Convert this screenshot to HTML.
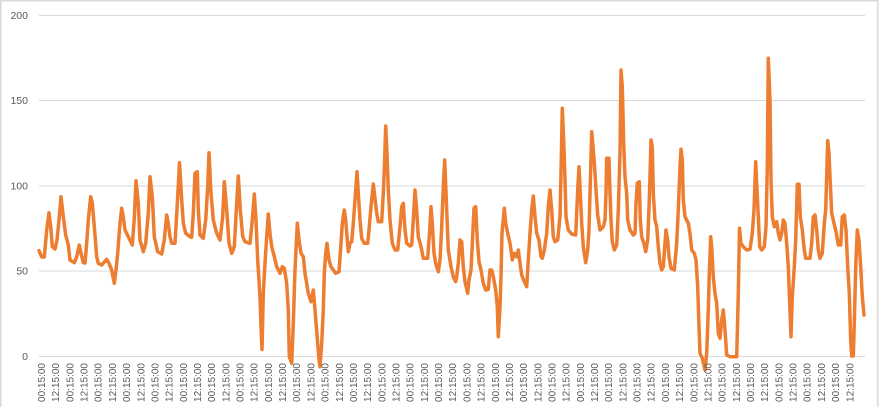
<!DOCTYPE html>
<html><head><meta charset="utf-8"><style>
html,body{margin:0;padding:0;background:#fff;width:882px;height:407px;overflow:hidden;}
svg{display:block;}
text{font-family:"Liberation Sans",sans-serif;fill:#595959;}
</style></head><body>
<svg width="882" height="407" viewBox="0 0 882 407" xmlns="http://www.w3.org/2000/svg" style="overflow:hidden">
<rect x="0" y="0" width="882" height="407" fill="#fff"/>
<path d="M0.75,407 L0.75,0.75 L877.75,0.75 L877.75,407" fill="none" stroke="#d9d9d9" stroke-width="1.5"/>
<g stroke="#d9d9d9" stroke-width="1">
<line x1="39" y1="15.5" x2="865" y2="15.5"/>
<line x1="39" y1="100.5" x2="865" y2="100.5"/>
<line x1="39" y1="186" x2="865" y2="186"/>
<line x1="39" y1="271" x2="865" y2="271"/>
<line x1="39" y1="356.5" x2="865" y2="356.5"/>
</g>
<g font-size="10.5" text-anchor="end">
<text x="28" y="19">200</text>
<text x="28" y="104">150</text>
<text x="28" y="189.5">100</text>
<text x="28" y="274.5">50</text>
<text x="28" y="360">0</text>
</g>
<polyline fill="none" stroke="#ED7D31" stroke-width="3.5" stroke-linejoin="round" stroke-linecap="round" points="
39,250.7 40,253 41.7,257 44.3,257 46.7,230 49,212.7 51,230 52.3,246.7 55,249 57,240 59,220 61,196.7 63.3,216.7 65.7,235 68.3,245 70,260 74.3,262.7 76.7,256.7 79.3,245 81,253 83.3,262.7 85,263 86.7,243 88.3,220 90.7,196.7 92.3,203 94.3,226.7 96.7,256.7 98.3,263.3 101.7,265 106.7,259.3 109,263.3 111.7,270 114.3,283.3 116,270 117.7,253 120,223.3 121.7,208.3 123.3,216.7 125,230 128.3,236.7 132.3,245 134.3,218.3 136,180.7 138.3,203.3 140,240 143.3,251.7 145.7,243.3 148.3,213.3 150,176.7 152.3,196.7 154.3,236.7 157.7,251.7 161.7,254 164.3,240 166.7,215 168.3,223.3 170,236.7 171.7,243.3 175,243.3 177.7,196.7 179.5,162.7
181.7,200 183.3,223.3 185.7,233.3 190,236.7 191.7,237.3 193.3,213.3 195,173.3 197.3,171.7 198.3,210 200,235 203.3,238.3 205.7,220 207.7,186.7 209,152.7 211,193.3 213.3,220 216.7,233.3 220,240 222.7,216.7 224.3,181.7 226.7,210 229,243.3 231.7,253.3 234.3,246.7 236.7,203.3 238.3,176 240.3,210 242.7,236.7 245,241.7 250,243.3 252.3,220 254.3,194 256,220 257.7,260 260,296.7 261,326.7 262,349.3 263.3,293.3 265,263.3 266.7,236.7 268.3,214 270,233.3 271.7,246.7 274.3,256.7 276.7,266.7 280,273.3 282.3,266.7 284.3,268.3 286.7,283.3 288.3,310 289.3,356.7 291.7,363.3 293.3,323.3 295,270 297.3,223.3 299,240 301,253.3 303.3,256.7 305,273.3 308.3,293.3 311,301.7 313.3,290 315,310 317.7,343.3 319,360
320,366.7 321.7,343.3 323.3,310 324.3,273.3 325.7,253.3 327,243.3 329,260 331,266.7 333.3,270 335.7,273.3 339,271.7 341,243.3 342.3,223.3 344.3,210 345.7,220 347,236.7 348.3,251.7 350,243.3 351.7,241.7 353.3,223.3 355,200 357,171.7 358.3,193.3 360,220 361.7,238.3 364.3,243.3 367.7,243.3 369.3,226.7 371,206.7 373.3,184 375,198.3 376.7,213.3 378.3,221.7 381.7,221.7 383.3,193.3 384.3,170 385.7,126 387,153.3 388.3,190 390,220 392.3,243.3 395,250 397.7,250 400,226.7 401.7,206.7 403.3,203.3 405,230 406.7,243.3 410,246 411.7,245 413.3,220 415,190 416.7,210 418.3,236.7 421,246.7 423.3,258.3 427.7,258.3 429.7,230 431,206.7 432.3,223.3 434,253.3 435.7,263.3 438.3,271.7 440,260 441.7,226.7 443.3,186.7 444.7,160 446.7,210 448.3,250 451,266.7 453.3,276.7 455.7,281.7
456.7,276.7 458.3,263.3 460,240 461.7,241.7 463.3,266.7 465,281.7 467.7,293.3 469,280 471,270 472.3,243.3 474,208.3 475.7,206.7 477.3,240 479,261.7 481,270 483.3,283.3 485.7,290 488.3,289.3 490,270 491.7,270 493.3,276.7 495.7,290 497.3,306.7 498.3,336.7 500,306.7 501,276.7 502,233.3 504.3,208.3 505.7,223.3 507.7,233.3 510,243.3 512.3,260 514.3,253.3 516.7,256.7 518.3,250 520,263.3 521.7,275 524.3,281.7 526.7,286.7 528.3,260 530,233.3 531.7,210 533.3,196 535,216.7 536.7,233.3 539,240 541,256.7 542.3,258.3 544.3,250 546.7,233.3 548.3,206.7 550,190 551.7,210 553.3,236.7 555,241.7 557.7,240 560,216.7 561,173.3 562.3,108.3 563.7,140 565,180 566,216.7 568.3,230 571.7,234 575.7,235 577.7,190 579,166.7 580.3,193.3 581.7,223.3 583.3,246.7 585.7,262.7 587.7,250 589,230 590.3,183.3 591.7,131.7 593,146.7 594.5,165 596,190 597.7,215
600,230 603.3,226.7 605,220 606,193.3 606.7,158.3 609,158.3 610,193.3 611,220 612.3,241.7 614.3,250 616.7,245 618.3,210 620,153.3 621,70 622.3,86.7 623.7,143.3 625,176.7 626.7,193.3 627.7,220 630,230 633.3,235 635,233.3 636,203.3 637.3,183.3 639.3,181.7 640.3,220 641.7,236.7 644.3,245 645.7,251.7 647.7,240 649.3,200 651,140 652.3,146.7 653.3,193.3 655,220 656.7,226.7 658.3,246.7 660,263.3 661.7,270 663.3,266.7 665,243.3 666,230 667.7,240 669,256.7 671,268.3 674.3,270 676.7,243.3 678.3,210 680,166.7 681,149.3 682.3,160 683.3,200 685,216.7 688.3,223.3 690,233.3 691.7,250 694.3,253.3 696,260 697.7,286.7 699,326.7 700,353.3 702.3,358.3 705,370 706.7,353.3 708.3,310 709.3,273.3 710.7,236.7 711.7,246.7 713.3,276.7 715,293.3 716.7,303.3 718.3,333.3 720,338.3 721.7,320 723.3,310 725,330 726.7,355 730,356.7 736.7,356.7 738.3,293.3 739.5,228.3
741,243.3 743.3,246.7 746.7,250 750,249.3 752.3,233.3 754,210 755.7,161.7 757,190 758.3,216.7 759.7,246.7 761.7,250 764.3,246.7 766,226.7 767.3,166.7 768.3,58.3 770,100 771,180 772.3,216.7 774.3,226.7 776.7,221.7 778.3,233.3 780,240 781.7,233.3 783.3,220 785,223.3 786.7,243.3 788.3,266.7 789.3,293.3 791,336.7 792.3,296.7 794.3,266.7 795.7,240 797.3,184.3 799,184.3 800.3,216.7 802.3,230 804.3,250 805.7,258.3 810,258.3 811.7,243.3 813.3,216.7 815,215 816.7,230 818.3,250 820,258.3 822.3,253.3 824.3,223.3 825.7,210 827.7,140.7 829,153.3 830.3,183.3 831.7,213.3 834,223.3 836,231.7 838.3,245 840.7,245 842.3,216.7 844.3,215 846,230 847.7,266.7 849.3,293.3 850.7,340 851.7,356 853.3,356 854.3,323.3 855.7,266.7 857.3,230 859,240 860.7,266.7 862.3,296.7 864,315"/>
<g font-size="10" text-anchor="end">
<text transform="translate(45.0,363) rotate(-90)">00:15:00</text>
<text transform="translate(59.2,363) rotate(-90)">12:15:00</text>
<text transform="translate(73.4,363) rotate(-90)">00:15:00</text>
<text transform="translate(87.5,363) rotate(-90)">12:15:00</text>
<text transform="translate(101.7,363) rotate(-90)">00:15:00</text>
<text transform="translate(115.9,363) rotate(-90)">12:15:00</text>
<text transform="translate(130.1,363) rotate(-90)">00:15:00</text>
<text transform="translate(144.3,363) rotate(-90)">12:15:00</text>
<text transform="translate(158.4,363) rotate(-90)">00:15:00</text>
<text transform="translate(172.6,363) rotate(-90)">12:15:00</text>
<text transform="translate(186.8,363) rotate(-90)">00:15:00</text>
<text transform="translate(201.0,363) rotate(-90)">12:15:00</text>
<text transform="translate(215.2,363) rotate(-90)">00:15:00</text>
<text transform="translate(229.3,363) rotate(-90)">12:15:00</text>
<text transform="translate(243.5,363) rotate(-90)">00:15:00</text>
<text transform="translate(257.7,363) rotate(-90)">12:15:00</text>
<text transform="translate(271.9,363) rotate(-90)">00:15:00</text>
<text transform="translate(286.1,363) rotate(-90)">12:15:00</text>
<text transform="translate(300.2,363) rotate(-90)">00:15:00</text>
<text transform="translate(314.4,363) rotate(-90)">12:15:00</text>
<text transform="translate(328.6,363) rotate(-90)">00:15:00</text>
<text transform="translate(342.8,363) rotate(-90)">12:15:00</text>
<text transform="translate(357.0,363) rotate(-90)">00:15:00</text>
<text transform="translate(371.1,363) rotate(-90)">12:15:00</text>
<text transform="translate(385.3,363) rotate(-90)">00:15:00</text>
<text transform="translate(399.5,363) rotate(-90)">12:15:00</text>
<text transform="translate(413.7,363) rotate(-90)">00:15:00</text>
<text transform="translate(427.9,363) rotate(-90)">12:15:00</text>
<text transform="translate(442.0,363) rotate(-90)">00:15:00</text>
<text transform="translate(456.2,363) rotate(-90)">12:15:00</text>
<text transform="translate(470.4,363) rotate(-90)">00:15:00</text>
<text transform="translate(484.6,363) rotate(-90)">12:15:00</text>
<text transform="translate(498.8,363) rotate(-90)">00:15:00</text>
<text transform="translate(512.9,363) rotate(-90)">12:15:00</text>
<text transform="translate(527.1,363) rotate(-90)">00:15:00</text>
<text transform="translate(541.3,363) rotate(-90)">12:15:00</text>
<text transform="translate(555.5,363) rotate(-90)">00:15:00</text>
<text transform="translate(569.7,363) rotate(-90)">12:15:00</text>
<text transform="translate(583.8,363) rotate(-90)">00:15:00</text>
<text transform="translate(598.0,363) rotate(-90)">12:15:00</text>
<text transform="translate(612.2,363) rotate(-90)">00:15:00</text>
<text transform="translate(626.4,363) rotate(-90)">12:15:00</text>
<text transform="translate(640.6,363) rotate(-90)">00:15:00</text>
<text transform="translate(654.7,363) rotate(-90)">12:15:00</text>
<text transform="translate(668.9,363) rotate(-90)">00:15:00</text>
<text transform="translate(683.1,363) rotate(-90)">12:15:00</text>
<text transform="translate(697.3,363) rotate(-90)">00:15:00</text>
<text transform="translate(711.5,363) rotate(-90)">12:15:00</text>
<text transform="translate(725.6,363) rotate(-90)">00:15:00</text>
<text transform="translate(739.8,363) rotate(-90)">12:15:00</text>
<text transform="translate(754.0,363) rotate(-90)">00:15:00</text>
<text transform="translate(768.2,363) rotate(-90)">12:15:00</text>
<text transform="translate(782.4,363) rotate(-90)">00:15:00</text>
<text transform="translate(796.5,363) rotate(-90)">12:15:00</text>
<text transform="translate(810.7,363) rotate(-90)">00:15:00</text>
<text transform="translate(824.9,363) rotate(-90)">12:15:00</text>
<text transform="translate(839.1,363) rotate(-90)">00:15:00</text>
<text transform="translate(853.3,363) rotate(-90)">12:15:00</text>
</g>
</svg>
</body></html>
